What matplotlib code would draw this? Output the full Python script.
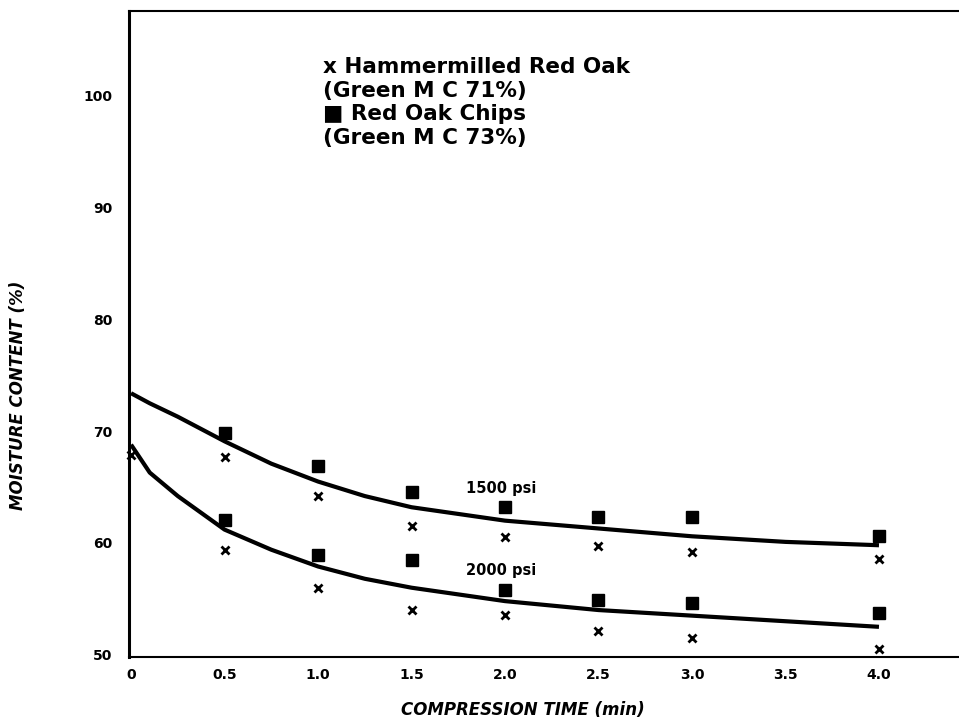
#!/usr/bin/env python3
"""
Moisture content of red oak vs compression time at two press pressures.
"""

import matplotlib
matplotlib.use("Agg")
import matplotlib.pyplot as plt

# Measured points (minutes, % moisture)
times = [0.5, 1.0, 1.5, 2.0, 2.5, 3.0, 4.0]
chips_1500 = [69.8, 66.9, 64.6, 63.2, 62.3, 62.3, 60.6]
hammer_1500 = [67.7, 64.2, 61.5, 60.5, 59.7, 59.2, 58.6]
chips_2000 = [62.1, 58.9, 58.5, 55.8, 54.9, 54.6, 53.7]
hammer_2000 = [59.4, 56.0, 54.0, 53.6, 52.1, 51.5, 50.5]
hammer_start = 67.9

# Fitted curves
fit_t = [0, 0.1, 0.25, 0.5, 0.75, 1.0, 1.25, 1.5, 2.0, 2.5, 3.0, 3.5, 4.0]
fit_1500 = [73.4, 72.5, 71.3, 69.1, 67.1, 65.5, 64.2, 63.2, 62.0, 61.3, 60.6, 60.1, 59.8]
fit_2000 = [68.8, 66.3, 64.2, 61.2, 59.4, 57.9, 56.8, 56.0, 54.8, 54.0, 53.5, 53.0, 52.5]

x_ticks = [0, 0.5, 1.0, 1.5, 2.0, 2.5, 3.0, 3.5, 4.0]
x_tick_labels = ["0", "0.5", "1.0", "1.5", "2.0", "2.5", "3.0", "3.5", "4.0"]
y_ticks = [50, 60, 70, 80, 90, 100]

legend_lines = [
    "x Hammermilled Red Oak",
    "(Green M C 71%)",
    "\u25a0 Red Oak Chips",
    "(Green M C 73%)",
]

plt.rcParams["font.family"] = ["DejaVu Sans"]

fig = plt.figure(figsize=(9.59, 7.25), dpi=100)
ax = fig.add_axes([0.1345, 0.0938, 0.8655, 0.891])

# curves
ax.plot(fit_t, fit_1500, color="black", linewidth=3, solid_joinstyle="round",
        solid_capstyle="butt")
ax.plot(fit_t, fit_2000, color="black", linewidth=3, solid_joinstyle="round",
        solid_capstyle="butt")

# data points
ax.plot(times, chips_1500, "s", color="black", markersize=8, linestyle="none")
ax.plot(times, chips_2000, "s", color="black", markersize=8, linestyle="none")
ax.plot(times, hammer_1500, "x", color="black", markersize=5.5, mew=2,
        linestyle="none")
ax.plot(times, hammer_2000, "x", color="black", markersize=5.5, mew=2,
        linestyle="none")
ax.plot([0], [hammer_start], "x", color="black", markersize=5.5, mew=2,
        clip_on=False)

ax.text(1.98, 64.9, "1500 psi", fontsize=10.5, fontweight="bold",
        ha="center", va="center")
ax.text(1.98, 57.5, "2000 psi", fontsize=10.5, fontweight="bold",
        ha="center", va="center")

# legend block as text
for i, line in enumerate(legend_lines):
    y_px = 67 + i * 23.7
    ax.text(0.234, (657 - y_px) / 646, line, transform=ax.transAxes,
            fontsize=15.5, fontweight="bold", ha="left", va="center")

ax.set_xlim(-0.011, 4.428)
ax.set_ylim(49.8, 107.6)
ax.set_xticks(x_ticks)
ax.set_xticklabels(x_tick_labels)
ax.set_yticks(y_ticks)
ax.tick_params(axis="both", length=0, labelsize=10)
ax.tick_params(axis="x", pad=8)
ax.tick_params(axis="y", pad=12)
for lbl in ax.get_xticklabels() + ax.get_yticklabels():
    lbl.set_fontweight("bold")

ax.spines["right"].set_visible(False)
ax.spines["left"].set_linewidth(2.2)
ax.spines["bottom"].set_linewidth(1.5)
ax.spines["top"].set_linewidth(1.5)

fig.text(0.545, 0.021, "COMPRESSION TIME (min)", fontsize=12,
         fontweight="bold", style="italic", ha="center", va="center")
fig.text(0.019, 0.455, "MOISTURE CONTENT (%)", fontsize=12,
         fontweight="bold", style="italic", rotation=90,
         ha="center", va="center")

fig.savefig("out.png", dpi=100)
